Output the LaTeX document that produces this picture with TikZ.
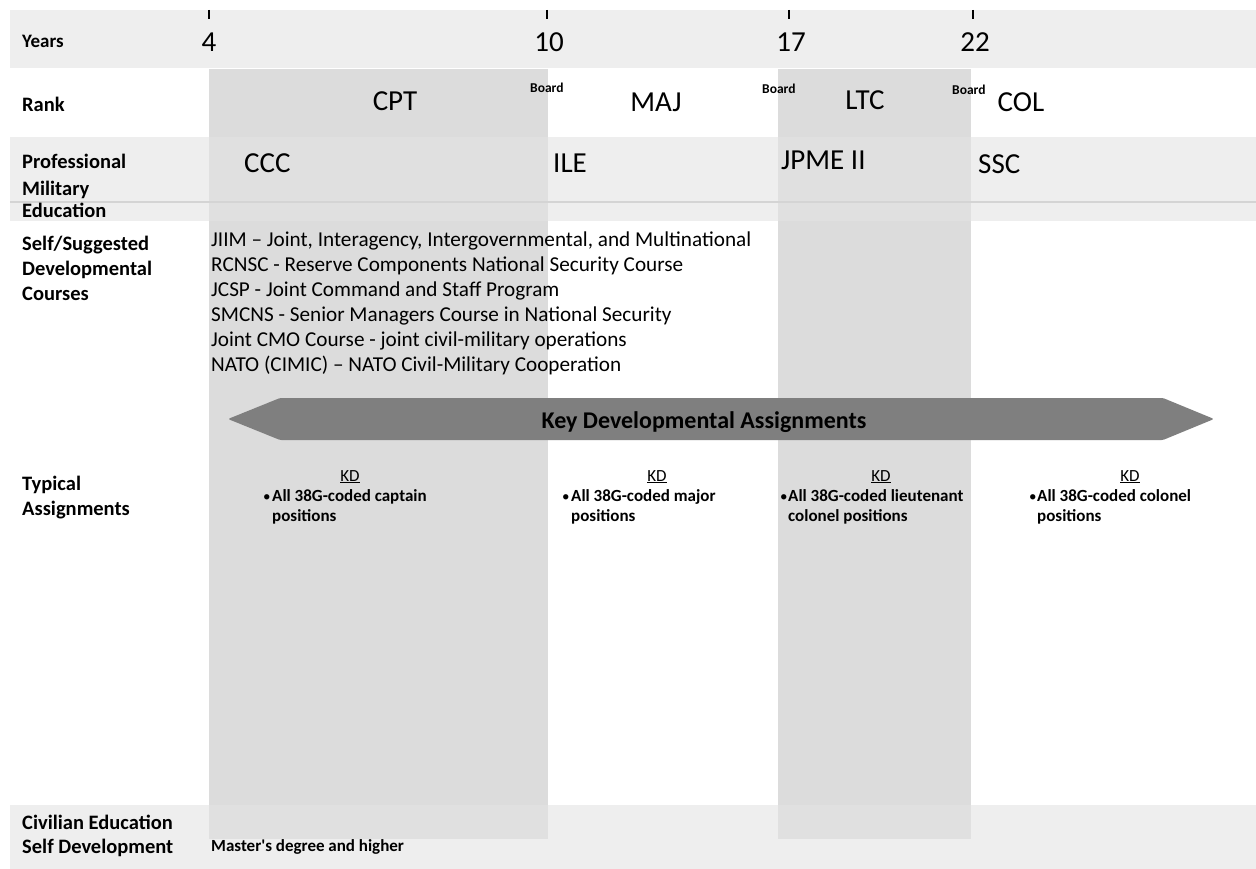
\documentclass[tikz,border=0pt]{standalone}
\usepackage{fontspec}
\setmainfont{Carlito}
\definecolor{colgray}{HTML}{DCDCDC}
\definecolor{bandgray}{HTML}{E4E4E4}
\definecolor{arrowgray}{HTML}{7F7F7F}
\definecolor{linegray}{HTML}{D4D4D4}
\tikzset{
  lbl/.style={anchor=base west, inner sep=0pt, font=\fontsize{20.5}{25}\selectfont\bfseries},
  big/.style={anchor=base, inner sep=0pt, font=\fontsize{29}{35}\selectfont},
  bigw/.style={big, anchor=base west},
  boardlbl/.style={anchor=base west, inner sep=0pt, font=\fontsize{13.5}{16}\selectfont\bfseries},
  course/.style={anchor=base west, inner sep=0pt, font=\fontsize{21.2}{25}\selectfont},
  kdlbl/.style={anchor=base, inner sep=0pt, font=\fontsize{17}{20}\selectfont},
  bul/.style={anchor=base west, inner sep=0pt, font=\fontsize{17}{20}\selectfont\bfseries},
  dot/.style={anchor=base west, inner sep=0pt, font=\fontsize{15}{20}\selectfont},
  band/.style={fill=bandgray, fill opacity=0.6},
  col/.style={fill=colgray},
  tick/.style={line width=1.8pt, black},
}
\begin{document}
\begin{tikzpicture}[x=1pt,y=-1pt]
\useasboundingbox (0,0) rectangle (1256,869);
\fill[white] (0,0) rectangle (1256,869);
% rank columns
\fill[col] (209,69) rectangle (548,839);
\fill[col] (778,69) rectangle (971,839);
% bands
\fill[band] (10,10) rectangle (1256,68);
\fill[band] (10,137) rectangle (1256,221);
\draw[linegray, line width=2pt] (10,202) -- (1256,202);
\fill[band] (10,805) rectangle (1256,869);
% ticks
\foreach \x in {209,547,789,973} \draw[tick] (\x,10) -- (\x,19);
% left labels
\node[lbl, font=\fontsize{19}{23}\selectfont\bfseries] (years) at (22,48) {Years};
\node[lbl] (rank) at (22,112) {Rank};
\node[lbl] (pme1) at (22,169) {Professional};
\node[lbl] (pme2) at (22,196) {Military};
\node[lbl] (pme3) at (22,218) {Education};
\node[lbl] (sdc1) at (22,251) {Self/Suggested};
\node[lbl] (sdc2) at (22,276) {Developmental};
\node[lbl] (sdc3) at (22,301) {Courses};
\node[lbl] (typ1) at (22,490) {Typical};
\node[lbl] (typ2) at (22,515) {Assignments};
\node[lbl] (civ1) at (22,829) {Civilian Education};
\node[lbl] (civ2) at (22,853) {Self Development};
% years
\node[big] (y4) at (209,52) {4};
\node[big] (y10) at (549,52) {10};
\node[big] (y17) at (791,52) {17};
\node[big] (y22) at (975,52) {22};
% ranks
\node[big] (cpt) at (395,111) {CPT};
\node[big] (maj) at (656,112) {MAJ};
\node[big] (ltc) at (865,110) {LTC};
\node[big] (col) at (1021,112) {COL};
\node[boardlbl] (b1) at (530,93) {Board};
\node[boardlbl] (b2) at (762,94) {Board};
\node[boardlbl] (b3) at (952,95) {Board};
% PME
\node[bigw] (ccc) at (244,173) {CCC};
\node[bigw] (ile) at (553,173) {ILE};
\node[bigw] (jpme) at (781,170) {JPME II};
\node[bigw] (ssc) at (978,174) {SSC};
% courses
\node[course] (c1) at (211,247) {JIIM – Joint, Interagency, Intergovernmental, and Multinational};
\node[course] (c2) at (211,272) {RCNSC - Reserve Components National Security Course};
\node[course] (c3) at (211,296) {JCSP - Joint Command and Staff Program};
\node[course] (c4) at (211,321) {SMCNS - Senior Managers Course in National Security};
\node[course] (c5) at (211,346) {Joint CMO Course - joint civil-military operations};
\node[course] (c6) at (211,371) {NATO (CIMIC) – NATO Civil-Military Cooperation};
% arrow
\fill[arrowgray, rounded corners=1.5pt] (228,419) -- (280,398) -- (1163,398) -- (1214,419) -- (1163,440) -- (280,440) -- cycle;
\node[anchor=base, inner sep=0pt, font=\fontsize{24}{29}\selectfont\bfseries] (kda) at (704,428) {Key Developmental Assignments};
% KD blocks
\node[kdlbl] (kd1) at (350,481) {\underline{KD}};
\node[kdlbl] (kd2) at (657,481) {\underline{KD}};
\node[kdlbl] (kd3) at (881,481) {\underline{KD}};
\node[kdlbl] (kd4) at (1130,481) {\underline{KD}};
\node[dot] (d1) at (263,501) {•};
\node[bul] (t1a) at (272,501) {All 38G-coded captain};
\node[bul] (t1b) at (272,521) {positions};
\node[dot] (d2) at (562,501) {•};
\node[bul] (t2a) at (571,501) {All 38G-coded major};
\node[bul] (t2b) at (571,521) {positions};
\node[dot] (d3) at (780,501) {•};
\node[bul] (t3a) at (788,501) {All 38G-coded lieutenant};
\node[bul] (t3b) at (788,521) {colonel positions};
\node[dot] (d4) at (1029,501) {•};
\node[bul] (t4a) at (1037,501) {All 38G-coded colonel};
\node[bul] (t4b) at (1037,521) {positions};
% civilian
\node[anchor=base west, inner sep=0pt, font=\fontsize{17}{20}\selectfont\bfseries] (mast) at (211,851) {Master\textquotesingle s degree and higher};
\end{tikzpicture}
\end{document}
